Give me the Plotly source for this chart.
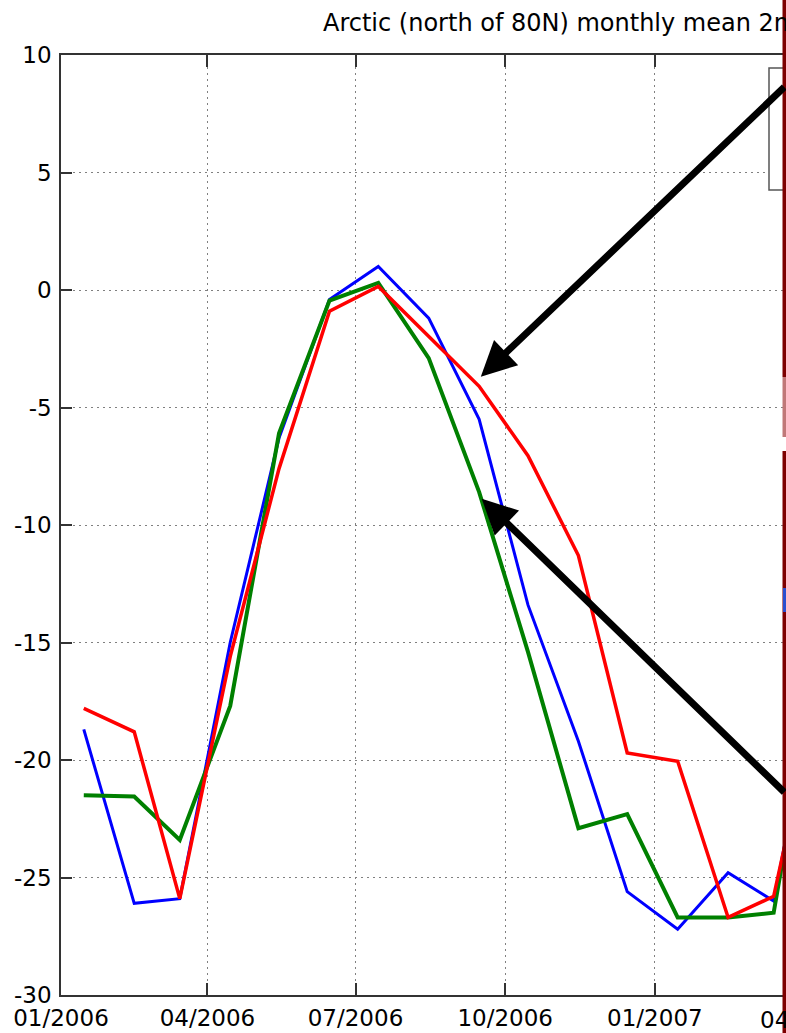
import plotly.graph_objects as go

# ---- data (monthly means, plotted mid-month) ----
months = ["2006-01-15", "2006-02-15", "2006-03-15", "2006-04-15", "2006-05-15",
          "2006-06-15", "2006-07-15", "2006-08-15", "2006-09-15", "2006-10-15",
          "2006-11-15", "2006-12-15", "2007-01-15", "2007-02-15", "2007-03-15",
          "2007-04-15"]
blue_vals = [-18.7, -26.1, -25.9, -15.0, -6.3, -0.4, 1.0, -1.2, -5.5, -13.4,
             -19.2, -25.6, -27.2, -24.8, -26.0, -15.0]
green_vals = [-21.5, -21.55, -23.4, -17.7, -6.1, -0.45, 0.3, -2.9, -8.6, -15.4,
              -22.9, -22.3, -26.7, -26.7, -26.5, -14.0]
red_vals = [-17.8, -18.8, -25.9, -15.6, -7.6, -0.9, 0.15, -2.0, -4.1, -7.05,
            -11.3, -19.7, -20.05, -26.7, -25.8, -16.0]

x_tickvals = ["2006-01-01", "2006-04-01", "2006-07-01", "2006-10-01", "2007-01-01"]
x_ticktext = ["01/2006", "04/2006", "07/2006", "10/2006", "01/2007"]
y_tickvals = [10, 5, 0, -5, -10, -15, -20, -25, -30]
y_ticktext = ["10", "5", "0", "-5", "-10", "-15", "-20", "-25", "-30"]
next_tick_label = "04/2007"

title_text = "Arctic (north of 80N) monthly mean 2m"
FONT = "DejaVu Sans"

fig = go.Figure()
fig.add_trace(go.Scatter(x=months, y=blue_vals, mode="lines",
                         line=dict(color="#0000ff", width=3), showlegend=False))
fig.add_trace(go.Scatter(x=months, y=green_vals, mode="lines",
                         line=dict(color="#008000", width=4), showlegend=False))
fig.add_trace(go.Scatter(x=months, y=red_vals, mode="lines",
                         line=dict(color="#ff0000", width=3.5), showlegend=False))

axis_common = dict(
    showline=True, linecolor="#333333", linewidth=1.5,
    ticks="inside", tickcolor="#333333", tickwidth=1.5,
    showgrid=True, gridcolor="#808080", gridwidth=1, griddash="2px,4px",
    zeroline=False, tickfont=dict(family=FONT, size=23, color="black"),
)

fig.update_xaxes(type="date", range=["2006-01-01", "2007-03-22 14:00"],
                 tickvals=x_tickvals, ticktext=x_ticktext, ticklen=12,
                 mirror="ticks", ticklabelstandoff=2, **axis_common)
fig.update_yaxes(range=[-30, 10], tickvals=y_tickvals, ticktext=y_ticktext,
                 ticklen=11, mirror=False, ticklabelstandoff=3, **axis_common)

def px_x(px):
    return (px - 61) / 725

def px_y(py):
    return 1 - (py - 55) / 940

# partially visible tick label beyond right edge
fig.add_annotation(text=next_tick_label, xref="paper", yref="paper",
                   x=px_x(808), y=px_y(1020),
                   xanchor="center", yanchor="middle", showarrow=False,
                   font=dict(family=FONT, size=23, color="black"))

# title (cropped at right)
fig.add_annotation(text=title_text, xref="paper", yref="paper",
                   x=px_x(321), y=px_y(23),
                   xanchor="left", yanchor="middle", showarrow=False,
                   font=dict(family=FONT, size=24, color="black"))

# arrows (tails at the right edge of the picture)
fig.add_annotation(x="2006-09-16", y=-3.69, text="", showarrow=True,
                   arrowhead=2, arrowsize=1, arrowwidth=7, arrowcolor="black",
                   ax=305, ay=-291, standoff=0)
fig.add_annotation(x="2006-09-16 14:00", y=-8.88, text="", showarrow=True,
                   arrowhead=2, arrowsize=1, arrowwidth=7, arrowcolor="black",
                   ax=304, ay=295, standoff=0)

shapes = [
    # legend box (cropped)
    dict(type="rect", xref="paper", yref="paper", x0=px_x(769), x1=px_x(800),
         y0=px_y(190), y1=px_y(68), line=dict(color="#555555", width=1.5),
         fillcolor="white", layer="above"),
    # dark red border strip at right edge
    dict(type="rect", xref="paper", yref="paper", x0=px_x(782.5), x1=px_x(790),
         y0=px_y(377), y1=px_y(-5), line=dict(width=0), fillcolor="#7d0000", layer="above"),
    dict(type="rect", xref="paper", yref="paper", x0=px_x(782.5), x1=px_x(790),
         y0=px_y(437), y1=px_y(377), line=dict(width=0), fillcolor="#c07878", layer="above"),
    dict(type="rect", xref="paper", yref="paper", x0=px_x(782.5), x1=px_x(790),
         y0=px_y(1040), y1=px_y(451), line=dict(width=0), fillcolor="#7d0000", layer="above"),
    dict(type="rect", xref="paper", yref="paper", x0=px_x(783), x1=px_x(790),
         y0=px_y(612), y1=px_y(588), line=dict(width=0), fillcolor="#2a4fd0", layer="above"),
]
fig.update_layout(shapes=shapes)

fig.update_layout(
    width=786, height=1033,
    margin=dict(l=61, r=0, t=55, b=38),
    plot_bgcolor="white", paper_bgcolor="white",
    showlegend=False,
)

fig.write_html("out.html")
